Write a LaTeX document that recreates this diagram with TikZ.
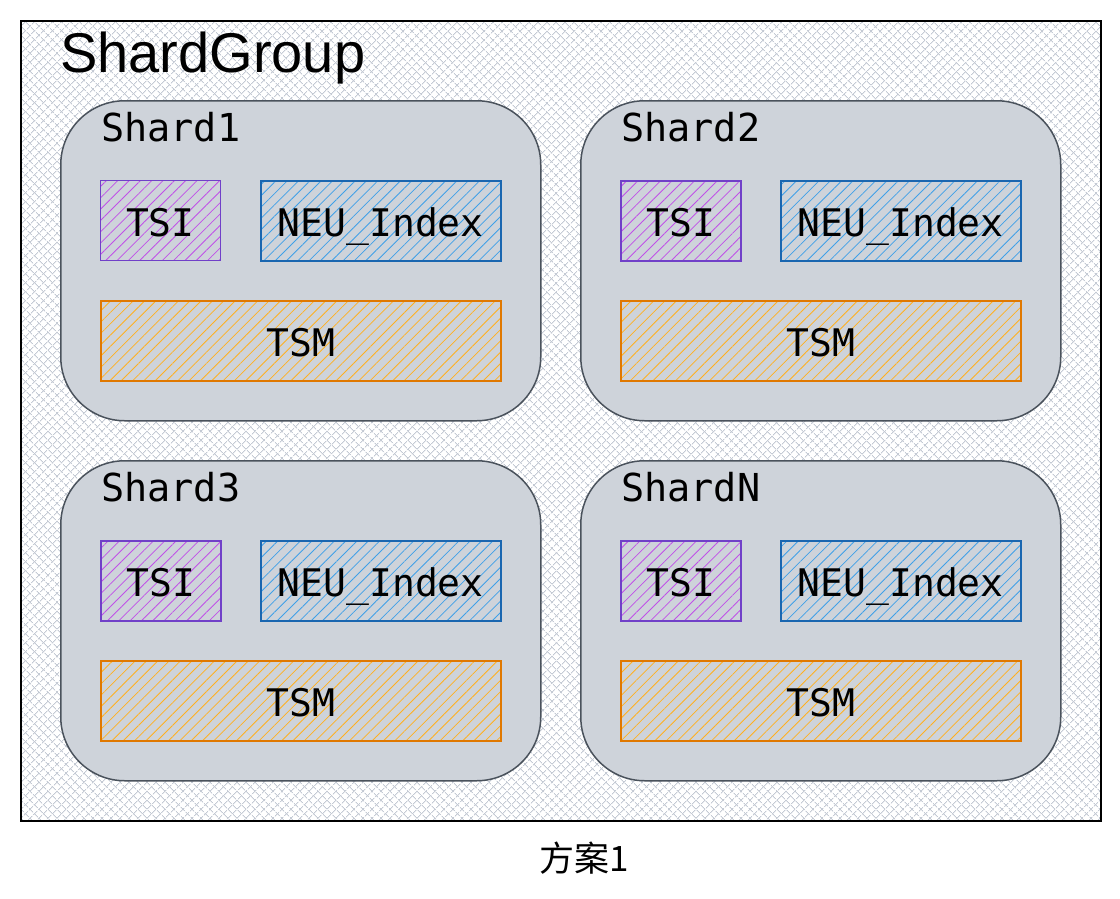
\documentclass[tikz,border=0pt]{standalone}
\usepackage{fontspec}
\setmainfont{Liberation Sans}
\setmonofont{DejaVu Sans Mono}
\newfontfamily\cjk{Noto Sans CJK SC}
\usetikzlibrary{patterns.meta}
\definecolor{hatchgrey}{HTML}{C4CAD4}
\definecolor{sharddraw}{HTML}{4A525C}
\definecolor{shardfill}{HTML}{CED3DA}
\definecolor{tsidraw}{HTML}{7040C8}
\definecolor{tsihatch}{HTML}{C050E8}
\definecolor{idxdraw}{HTML}{1A66B0}
\definecolor{idxhatch}{HTML}{3FA0E8}
\definecolor{tsmdraw}{HTML}{E07800}
\definecolor{tsmhatch}{HTML}{FFB020}
\tikzset{
	group/.style={draw=black, line width=2pt, inner sep=0pt, minimum width=1080pt, minimum height=800pt,
		preaction={pattern={Lines[angle=45,distance=6.5pt,line width=1pt]}, pattern color=hatchgrey},
		pattern={Lines[angle=-45,distance=6.5pt,line width=1pt]}, pattern color=hatchgrey},
	shard/.style={draw=sharddraw, fill=shardfill, line width=1.5pt, rounded corners=64pt, inner sep=0pt,
		minimum width=480pt, minimum height=320pt},
	part/.style={line width=1.6pt, inner sep=0pt, minimum height=80pt, text height=32pt, text depth=0pt,
		font=\ttfamily\fontsize{38}{40}\selectfont},
	tsibox/.style={part, draw=tsidraw, minimum width=120pt,
		pattern={Lines[angle=45,distance=8pt,line width=0.8pt]}, pattern color=tsihatch},
	idxbox/.style={part, draw=idxdraw, minimum width=240pt,
		pattern={Lines[angle=45,distance=8pt,line width=0.8pt]}, pattern color=idxhatch},
	tsmbox/.style={part, draw=tsmdraw, minimum width=400pt,
		pattern={Lines[angle=45,distance=8pt,line width=0.8pt]}, pattern color=tsmhatch},
	shardlabel/.style={inner sep=0pt, font=\ttfamily\fontsize{38.5}{40}\selectfont}
}
\begin{document}
\begin{tikzpicture}[x=1pt,y=-1pt]
		\useasboundingbox (0,0) rectangle (1120,898);
		\node[group, anchor=north west] (grp) at (20,20) {};
		\node[anchor=base west, inner sep=0pt, font=\fontsize{56}{60}\selectfont] (grplabel) at (60,72) {ShardGroup};
		\foreach \x/\y/\n/\lbl in {60/100/1/Shard1, 580/100/2/Shard2, 60/460/3/Shard3, 580/460/N/ShardN} {
			\node[shard, anchor=north west] (shard\n) at (\x,\y) {};
			\node[shardlabel, anchor=base west] (lbl\n) at (\x+41,\y+41) {\lbl};
			\node[tsibox, anchor=north west] (tsi\n) at (\x+40,\y+80) {TSI};
			\node[idxbox, anchor=north west] (idx\n) at (\x+200,\y+80) {NEU\_Index};
			\node[tsmbox, anchor=north west] (tsm\n) at (\x+40,\y+200) {TSM};
		}
		\node[anchor=base, inner sep=0pt, font=\cjk\fontsize{35}{38}\selectfont] (caption) at (584,871) {方案1};
	\end{tikzpicture}
\end{document}
